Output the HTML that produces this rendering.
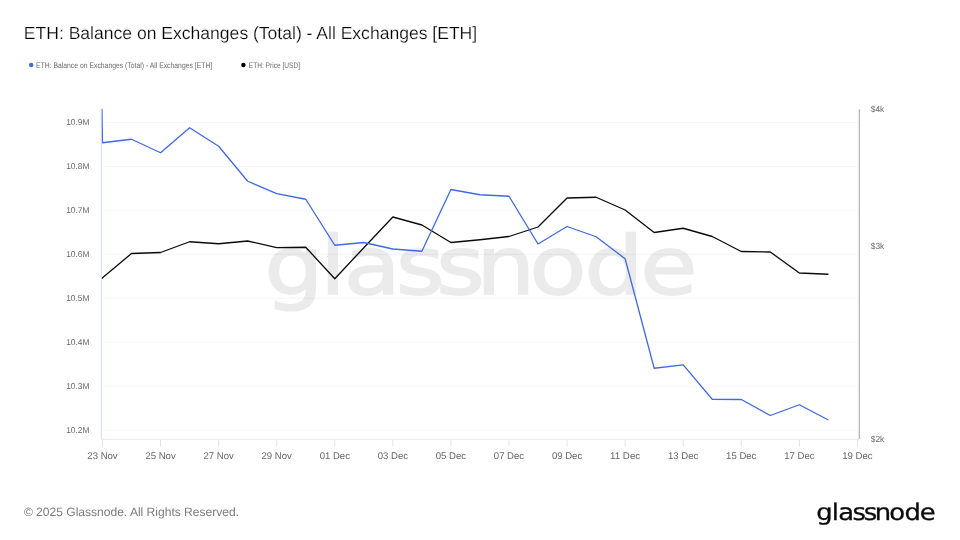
<!DOCTYPE html>
<html lang="en">
<head>
<meta charset="utf-8">
<title>ETH: Balance on Exchanges (Total) - All Exchanges [ETH]</title>
<style>
html,body{margin:0;padding:0;background:#fff;}
body{width:960px;height:540px;overflow:hidden;position:relative;font-family:"Liberation Sans",sans-serif;}
svg{position:absolute;left:0;top:0;display:block;}
text{font-family:"Liberation Sans",sans-serif;text-rendering:geometricPrecision;}
.t{fill:#000;}
.lg{fill:#6a6a6a;}
.ax{fill:#666;}
.ft{fill:#7a7a7a;}
.wm{fill:#ebebeb;font-family:"DejaVu Sans","Liberation Sans",sans-serif;}
.logo{fill:#0a0a0a;font-family:"DejaVu Sans","Liberation Sans",sans-serif;}
</style>
</head>
<body>
<svg width="960" height="540" viewBox="0 0 960 540">
<defs><clipPath id="cp"><rect x="101.6" y="108.6" width="760" height="332"/></clipPath></defs>
<rect x="0" y="0" width="960" height="540" fill="#ffffff"/>
<text class="t" stroke="#fff" stroke-width="0.22" x="23.8" y="39.0" font-size="17.6" textLength="453.4" lengthAdjust="spacing">ETH: Balance on Exchanges (Total) - All Exchanges [ETH]</text>
<circle cx="31.2" cy="65" r="2.25" fill="#3f69e6"/>
<text class="lg" x="36" y="68.1" font-size="8.0" textLength="176.2" lengthAdjust="spacingAndGlyphs">ETH: Balance on Exchanges (Total) - All Exchanges [ETH]</text>
<circle cx="243.4" cy="65" r="2.25" fill="#000"/>
<text class="lg" x="248.8" y="68.1" font-size="8.0" textLength="51.2" lengthAdjust="spacingAndGlyphs">ETH: Price [USD]</text>
<text class="wm" font-size="80.8" transform="scale(1.15,1)" y="294.1" x="230.10 278.36 298.83 344.43 379.30 414.20 460.35 508.27 556.72" stroke="#ebebeb" stroke-width="1.6">glassnode</text>
<g stroke="#000" stroke-opacity="0.042" stroke-width="1" fill="none">
<line x1="103" y1="122.4" x2="857.5" y2="122.4"/>
<line x1="103" y1="166.4" x2="857.5" y2="166.4"/>
<line x1="103" y1="210.3" x2="857.5" y2="210.3"/>
<line x1="103" y1="254.3" x2="857.5" y2="254.3"/>
<line x1="103" y1="298.2" x2="857.5" y2="298.2"/>
<line x1="103" y1="342.2" x2="857.5" y2="342.2"/>
<line x1="103" y1="386.2" x2="857.5" y2="386.2"/>
<line x1="103" y1="430.1" x2="857.5" y2="430.1"/>
</g>
<line x1="101.3" y1="109" x2="101.3" y2="439.5" stroke="#d9e0fa" stroke-width="1.2"/>
<line x1="859.3" y1="109.2" x2="859.3" y2="438.9" stroke="#a9a9a9" stroke-width="1.1"/>
<line x1="102" y1="439.3" x2="859" y2="439.3" stroke="#e9e9e9" stroke-width="1"/>
<g stroke="#e4e4e4" stroke-width="1">
<line x1="102.50" y1="439.5" x2="102.50" y2="446.7"/>
<line x1="160.57" y1="439.5" x2="160.57" y2="446.7"/>
<line x1="218.64" y1="439.5" x2="218.64" y2="446.7"/>
<line x1="276.71" y1="439.5" x2="276.71" y2="446.7"/>
<line x1="334.78" y1="439.5" x2="334.78" y2="446.7"/>
<line x1="392.85" y1="439.5" x2="392.85" y2="446.7"/>
<line x1="450.92" y1="439.5" x2="450.92" y2="446.7"/>
<line x1="508.99" y1="439.5" x2="508.99" y2="446.7"/>
<line x1="567.06" y1="439.5" x2="567.06" y2="446.7"/>
<line x1="625.13" y1="439.5" x2="625.13" y2="446.7"/>
<line x1="683.20" y1="439.5" x2="683.20" y2="446.7"/>
<line x1="741.27" y1="439.5" x2="741.27" y2="446.7"/>
<line x1="799.34" y1="439.5" x2="799.34" y2="446.7"/>
<line x1="857.41" y1="439.5" x2="857.41" y2="446.7"/>
</g>
<g class="ax" font-size="8.5" text-anchor="end">
<text x="89.5" y="125.2" textLength="23.3" lengthAdjust="spacingAndGlyphs">10.9M</text>
<text x="89.5" y="169.2" textLength="23.3" lengthAdjust="spacingAndGlyphs">10.8M</text>
<text x="89.5" y="213.1" textLength="23.3" lengthAdjust="spacingAndGlyphs">10.7M</text>
<text x="89.5" y="257.1" textLength="23.3" lengthAdjust="spacingAndGlyphs">10.6M</text>
<text x="89.5" y="301.0" textLength="23.3" lengthAdjust="spacingAndGlyphs">10.5M</text>
<text x="89.5" y="345.0" textLength="23.3" lengthAdjust="spacingAndGlyphs">10.4M</text>
<text x="89.5" y="389.0" textLength="23.3" lengthAdjust="spacingAndGlyphs">10.3M</text>
<text x="89.5" y="432.9" textLength="23.3" lengthAdjust="spacingAndGlyphs">10.2M</text>
</g>
<g class="ax" font-size="9.7" text-anchor="middle">
<text x="102.50" y="458.6" textLength="30.3" lengthAdjust="spacingAndGlyphs">23 Nov</text>
<text x="160.57" y="458.6" textLength="30.3" lengthAdjust="spacingAndGlyphs">25 Nov</text>
<text x="218.64" y="458.6" textLength="30.3" lengthAdjust="spacingAndGlyphs">27 Nov</text>
<text x="276.71" y="458.6" textLength="30.3" lengthAdjust="spacingAndGlyphs">29 Nov</text>
<text x="334.78" y="458.6" textLength="30.3" lengthAdjust="spacingAndGlyphs">01 Dec</text>
<text x="392.85" y="458.6" textLength="30.3" lengthAdjust="spacingAndGlyphs">03 Dec</text>
<text x="450.92" y="458.6" textLength="30.3" lengthAdjust="spacingAndGlyphs">05 Dec</text>
<text x="508.99" y="458.6" textLength="30.3" lengthAdjust="spacingAndGlyphs">07 Dec</text>
<text x="567.06" y="458.6" textLength="30.3" lengthAdjust="spacingAndGlyphs">09 Dec</text>
<text x="625.13" y="458.6" textLength="30.3" lengthAdjust="spacingAndGlyphs">11 Dec</text>
<text x="683.20" y="458.6" textLength="30.3" lengthAdjust="spacingAndGlyphs">13 Dec</text>
<text x="741.27" y="458.6" textLength="30.3" lengthAdjust="spacingAndGlyphs">15 Dec</text>
<text x="799.34" y="458.6" textLength="30.3" lengthAdjust="spacingAndGlyphs">17 Dec</text>
<text x="857.41" y="458.6" textLength="30.3" lengthAdjust="spacingAndGlyphs">19 Dec</text>
</g>
<g class="ax" font-size="8.7">
<text x="870.7" y="111.6" textLength="13.6" lengthAdjust="spacingAndGlyphs">$4k</text>
<text x="870.7" y="248.8" textLength="13.6" lengthAdjust="spacingAndGlyphs">$3k</text>
<text x="870.7" y="441.8" textLength="13.6" lengthAdjust="spacingAndGlyphs">$2k</text>
</g>
<polyline points="101.60,278.50 131.53,253.50 160.57,252.50 189.61,241.75 218.64,243.75 247.68,241.00 276.71,247.60 305.75,247.25 334.78,278.75 363.81,247.70 392.85,217.00 421.88,225.00 450.92,242.50 479.95,239.75 508.99,236.50 538.02,227.00 567.06,198.00 596.10,197.25 625.13,210.00 654.16,232.50 683.20,228.25 712.24,236.50 741.27,251.50 770.30,252.00 799.34,273.00 828.38,274.25" fill="none" stroke="#0a0a0a" stroke-width="1.3" stroke-linejoin="round" clip-path="url(#cp)" stroke-linecap="butt"/>
<polyline points="101.9,108.5 102.50,142.75 131.53,139.25 160.57,152.75 189.61,127.75 218.64,146.25 247.68,181.25 276.71,193.60 305.75,199.25 334.78,245.25 363.81,242.50 392.85,249.00 421.88,251.25 450.92,189.50 479.95,194.75 508.99,196.25 538.02,244.00 567.06,226.50 596.10,236.75 625.13,258.75 654.16,368.25 683.20,364.90 712.24,399.25 741.27,399.50 770.30,415.50 799.34,404.75 828.38,420.00" fill="none" stroke="#3f69e6" stroke-width="1.3" clip-path="url(#cp)" stroke-linejoin="round" stroke-linecap="butt"/>
<text class="ft" x="23.9" y="516" font-size="12.05">© 2025 Glassnode. All Rights Reserved.</text>
<text class="logo" font-size="23.0" transform="scale(1.125,1)" y="519.6" x="725.67 739.30 745.02 757.86 767.68 777.49 790.48 803.97 817.61" stroke="#0a0a0a" stroke-width="0.3">glassnode</text>
</svg>
</body>
</html>
